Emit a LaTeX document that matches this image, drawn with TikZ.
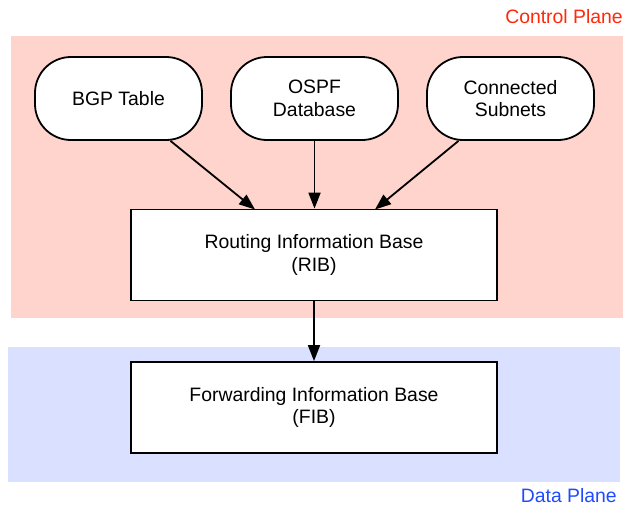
\documentclass[tikz,border=0pt]{standalone}
\usepackage{fontspec}
\setmainfont{Liberation Sans}
\usetikzlibrary{arrows.meta}
\definecolor{ctrlfill}{RGB}{255,212,205}
\definecolor{datafill}{RGB}{218,224,255}
\definecolor{ctrltext}{RGB}{255,40,10}
\definecolor{datatext}{RGB}{30,75,255}
\tikzset{
  txt/.style={font=\fontsize{19.4}{22.5}\selectfont},
  source/.style={txt, draw=black, line width=1.8pt, fill=white, rounded corners=36pt,
    minimum width=167pt, minimum height=83pt, align=center, inner sep=0pt},
  base/.style={txt, draw=black, line width=1.8pt, fill=white,
    minimum width=366pt, minimum height=91pt, align=center, inner sep=0pt},
  flow/.style={line width=1.8pt, -{Triangle[length=16pt,width=12pt]}},
  planelabel/.style={txt, anchor=east, inner sep=0pt}
}
\begin{document}
\begin{tikzpicture}[x=1pt,y=-1pt]
  \useasboundingbox (0,0) rectangle (623,506);
  % plane backgrounds
  \fill[ctrlfill] (11,36) rectangle (623,318);
  \fill[datafill] (8,347) rectangle (620,482);
  \node[planelabel, text=ctrltext] (cplabel) at (623,17) {Control Plane};
  \node[planelabel, text=datatext] (dplabel) at (617,496) {Data Plane};
  % route sources
  \node[source] (bgp) at (118.5,98.5) {BGP Table};
  \node[source] (ospf) at (314.5,98.5) {OSPF\\Database};
  \node[source] (conn) at (510.5,98.5) {Connected\\Subnets};
  % tables
  \node[base] (rib) at (314,255) {Routing Information Base\\(RIB)};
  \node[base] (fib) at (314,407.5) {Forwarding Information Base\\(FIB)};
  % connectors
  \draw[flow] (bgp.south) ++(52,0) coordinate (bgpout) -- (255,209.5) coordinate (ribinl);
  \draw[flow] (ospf.south) -- (ospf.south |- rib.north);
  \draw[flow] (conn.south) ++(-52,0) coordinate (connout) -- (375,209.5) coordinate (ribinr);
  \draw[flow] (rib.south) -- (fib.north);
\end{tikzpicture}
\end{document}
